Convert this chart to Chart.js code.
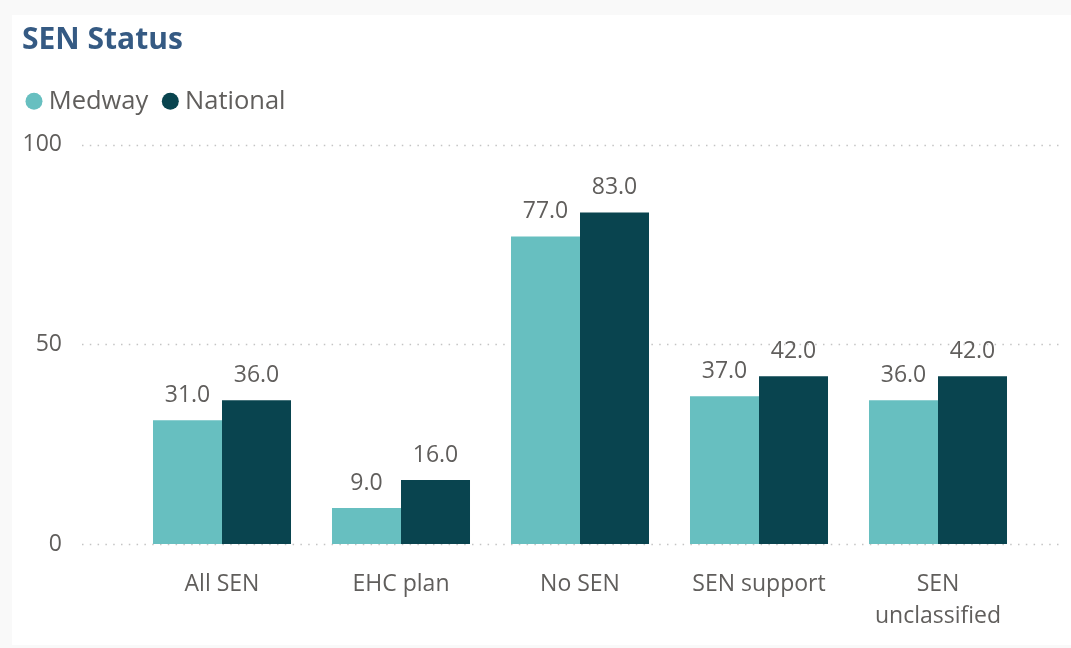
<!DOCTYPE html>
<html>
<head>
<meta charset="utf-8">
<script src="https://cdn.jsdelivr.net/npm/chart.js@4/dist/chart.umd.min.js"></script>
<style>
  html, body { margin: 0; padding: 0; background: #f9f9f9; }
  #card { position: absolute; left: 12px; top: 15px; width: 1059px; height: 630px; background: #ffffff; }
  #wrap { position: absolute; left: 0; top: 0; width: 1071px; height: 648px; }
</style>
</head>
<body>
<div id="card"></div>
<div id="wrap"><canvas id="c" width="1071" height="648"></canvas></div>
<script>
const categories = ['All SEN', 'EHC plan', 'No SEN', 'SEN support', ['SEN', 'unclassified']];
const medway = [31, 9, 77, 37, 36];
const national = [36, 16, 83, 42, 42];
const yTicks = [0, 50, 100];
const seriesNames = ['Medway', 'National'];

const FONT = "'Segoe UI', 'Open Sans', 'Noto Sans', sans-serif";
const TEXT = '#605e5c';

const dottedGrid = {
  id: 'dottedGrid',
  beforeDatasetsDraw(chart) {
    const y = chart.scales.y;
    const ctx = chart.ctx;
    ctx.save();
    ctx.strokeStyle = '#c4c4c4';
    ctx.lineWidth = 1.5;
    ctx.setLineDash([1.5, 6.3]);
    y.ticks.forEach(t => {
      const py = Math.round(y.getPixelForValue(t.value)) + 0.5;
      ctx.beginPath();
      ctx.moveTo(82, py);
      ctx.lineTo(1062, py);
      ctx.stroke();
    });
    ctx.restore();
  }
};

const valueLabels = {
  id: 'valueLabels',
  afterDatasetsDraw(chart) {
    const ctx = chart.ctx;
    ctx.save();
    ctx.font = '23px ' + FONT;
    ctx.fillStyle = TEXT;
    ctx.textAlign = 'center';
    ctx.textBaseline = 'alphabetic';
    chart.data.datasets.forEach((ds, i) => {
      chart.getDatasetMeta(i).data.forEach((bar, j) => {
        ctx.fillText(ds.data[j].toFixed(1), bar.x, bar.y - 18.5);
      });
    });
    ctx.restore();
  }
};

const legendShift = {
  id: 'legendShift',
  afterLayout(chart) {
    if (chart.legend) { chart.legend.left = 12; }
  }
};

new Chart(document.getElementById('c'), {
  type: 'bar',
  data: {
    labels: categories,
    datasets: [
      { label: seriesNames[0], data: medway, backgroundColor: '#67bfc0', borderWidth: 0 },
      { label: seriesNames[1], data: national, backgroundColor: '#09444f', borderWidth: 0 }
    ]
  },
  options: {
    responsive: false,
    animation: false,
    events: [],
    layout: { padding: { left: 22, right: 43.5, top: 0, bottom: 0 } },
    datasets: { bar: { barPercentage: 1.0, categoryPercentage: 0.771 } },
    plugins: {
      title: {
        display: true,
        text: 'SEN Status',
        align: 'start',
        color: '#355a83',
        font: { family: FONT, size: 30, weight: 'bold', lineHeight: 1.2 },
        padding: { top: 22, bottom: 10.5 }
      },
      legend: {
        display: true,
        position: 'top',
        align: 'start',
        labels: {
          usePointStyle: true,
          pointStyle: 'circle',
          boxWidth: 4,
          boxHeight: 12,
          padding: 20,
          color: TEXT,
          font: { family: FONT, size: 25.5 }
        }
      },
      tooltip: { enabled: false }
    },
    scales: {
      x: {
        grid: { display: false, drawTicks: false },
        border: { display: false },
        ticks: {
          color: TEXT,
          font: { family: FONT, size: 23, lineHeight: 1.39 },
          padding: 24,
          maxRotation: 0,
          autoSkip: false
        },
        afterFit(scale) { scale.height = 104; }
      },
      y: {
        min: 0,
        max: (544 - 124.3) / 3.99,
        grid: { display: false, drawTicks: false },
        border: { display: false },
        afterBuildTicks(scale) { scale.ticks = yTicks.map(v => ({ value: v })); },
        ticks: {
          color: TEXT,
          font: { family: FONT, size: 23 },
          padding: 70.5
        },
        afterFit(scale) { scale.width = 110.5; }
      }
    }
  },
  plugins: [dottedGrid, valueLabels, legendShift]
});
</script>
</body>
</html>
